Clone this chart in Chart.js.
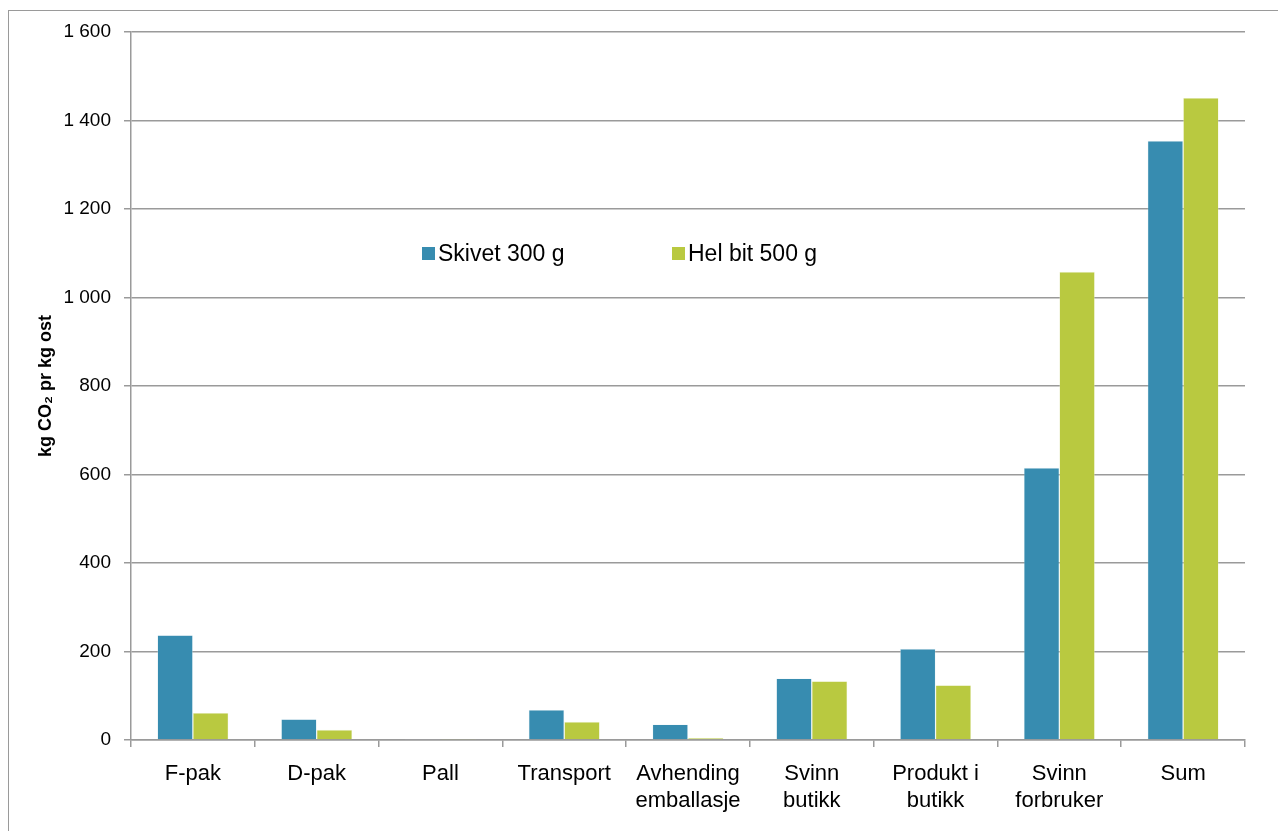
<!DOCTYPE html>
<html>
<head>
<meta charset="utf-8">
<title>kg CO2 pr kg ost</title>
<script src="https://cdn.jsdelivr.net/npm/chart.js@4"></script>
<style>
  html, body { margin: 0; padding: 0; background: #fff; overflow: hidden; }
  #wrap { position: relative; width: 1278px; height: 831px; }
  #ramme {
    position: absolute; left: 8px; top: 10px; width: 1300px; height: 900px;
    border: 1px solid #9a9a9a; box-sizing: border-box; pointer-events: none;
  }
  canvas { position: absolute; left: 0; top: 0; }
</style>
</head>
<body>
<div id="wrap">
  <canvas id="grafikk" width="1278" height="831"></canvas>
  <div id="ramme"></div>
</div>
<script>
// Kategorier langs x-aksen (flere linjer der teksten brytes)
const kategorier = [
  "F-pak",
  "D-pak",
  "Pall",
  "Transport",
  ["Avhending", "emballasje"],
  ["Svinn", "butikk"],
  ["Produkt i", "butikk"],
  ["Svinn", "forbruker"],
  "Sum",
];

// kg CO2 pr kg ost
const skivet300 = [237, 47, 2, 68, 35, 139, 206, 615, 1354];
const helBit500 = [61, 23, 1, 41, 5, 133, 124, 1058, 1451];

const yMaks = 1600;
const ySteg = 200;

const FONT = "'Liberation Sans', Arial, sans-serif";

// "1 600" med mellomrom som tusenskille
function formaterTall(v) {
  if (v >= 1000) {
    return Math.floor(v / 1000) + " " + String(v % 1000).padStart(3, "0");
  }
  return String(v);
}

// Tegnforklaring inne i plottet
const forklaring = {
  id: "forklaring",
  afterDraw(chart) {
    const ctx = chart.ctx;
    const plasser = [422, 672];
    const y = 254;
    ctx.save();
    ctx.font = "23px " + FONT;
    ctx.textBaseline = "middle";
    chart.data.datasets.forEach((ds, i) => {
      const x = plasser[i];
      ctx.fillStyle = ds.backgroundColor;
      ctx.fillRect(x, y - 7, 13, 13);
      ctx.fillStyle = "#000";
      ctx.fillText(ds.label, x + 16, y + 1);
    });
    ctx.restore();
  },
};

const ctx = document.getElementById("grafikk").getContext("2d");

new Chart(ctx, {
  type: "bar",
  data: {
    labels: kategorier,
    datasets: [
      {
        label: "Skivet 300 g",
        data: skivet300,
        backgroundColor: "#378cb0",
        borderColor: "rgba(215,232,240,0.7)",
        borderWidth: 0.6,
        borderSkipped: "bottom",
      },
      {
        label: "Hel bit 500 g",
        data: helBit500,
        backgroundColor: "#b9c940",
        borderColor: "rgba(235,240,205,0.7)",
        borderWidth: 0.6,
        borderSkipped: "bottom",
      },
    ],
  },
  options: {
    responsive: false,
    animation: false,
    devicePixelRatio: 1,
    layout: {
      padding: { left: 20, right: 33, top: 32, bottom: 0 },
    },
    datasets: {
      bar: {
        categoryPercentage: 0.574,
        barPercentage: 1.0,
      },
    },
    scales: {
      x: {
        offset: true,
        grid: {
          offset: true,
          drawOnChartArea: false,
          tickLength: 7,
          color: "#9a9a9a",
          lineWidth: 1.5,
        },
        border: { color: "#9a9a9a", width: 1.5 },
        ticks: {
          color: "#000",
          font: { family: FONT, size: 22, lineHeight: 1.22 },
          padding: 14,
          maxRotation: 0,
          autoSkip: false,
        },
        afterFit(scale) {
          scale.height = 91;
        },
      },
      y: {
        min: 0,
        max: yMaks,
        grid: {
          tickLength: 7,
          color: "#9a9a9a",
          lineWidth: 1.5,
        },
        border: { color: "#9a9a9a", width: 1.5 },
        ticks: {
          stepSize: ySteg,
          color: "#000",
          font: { family: FONT, size: 19 },
          padding: 13,
          callback: (v) => formaterTall(v),
        },
        title: {
          display: true,
          text: "kg CO₂ pr kg ost",
          color: "#000",
          font: { family: FONT, size: 18, weight: "bold" },
          padding: { top: 15, bottom: 0 },
        },
        afterFit(scale) {
          scale.width = 111;
        },
      },
    },
    plugins: {
      legend: { display: false },
      tooltip: { enabled: false },
    },
  },
  plugins: [forklaring],
});
</script>
</body>
</html>
